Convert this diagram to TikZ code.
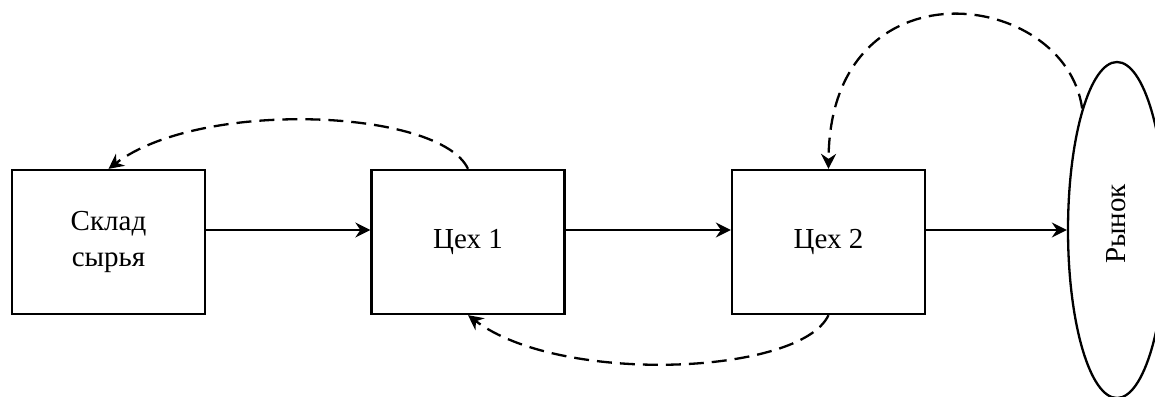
\documentclass[tikz,border=0pt]{standalone}
\usepackage{fontspec}
\setmainfont{Liberation Serif}
\usetikzlibrary{arrows.meta,shapes.geometric}
\begin{document}
\begin{tikzpicture}[x=0.5pt,y=-0.5pt,
  line width=1.15pt,
  unit/.style={draw, rectangle, minimum width=96.5pt, minimum height=72pt,
    inner sep=0pt, align=center, font=\fontsize{14.5}{18}\selectfont},
  market/.style={draw, ellipse, minimum width=49pt, minimum height=168pt, inner sep=0pt},
  flow/.style={-{Stealth[length=7.5pt,width=7.5pt,inset=2.5pt]}},
  back/.style={flow, dash pattern=on 7.5pt off 4pt}]
  \clip (0,0) rectangle (1155,396);

  % production stages
  \node[unit] (sklad) at (108.5,242) {Склад\\сырья};
  \node[unit] (ceh1)  at (468,242)   {Цех 1};
  \node[unit] (ceh2)  at (828.5,242) {Цех 2};

  % market
  \node[market] (rynok) at (1117,230) {};
  \node[rotate=90, font=\fontsize{14.5}{18}\selectfont] (rynoklabel) at (1116,224) {Рынок};

  % material flow
  \draw[flow] ([yshift=6pt]sklad.east) -- ([yshift=6pt]ceh1.west);
  \draw[flow] ([yshift=6pt]ceh1.east) -- ([yshift=6pt]ceh2.west);
  \draw[flow] ([yshift=6pt]ceh2.east) -- (rynok.west);

  % feedback
  \draw[back] (ceh1.north) .. controls +(-28,-60) and +(92,-70) .. (sklad.north);
  \draw[back] (ceh2.south) .. controls +(-28,60) and +(92,70) .. (ceh1.south);
  \draw[back] (rynok.106) .. controls +(-17,-120) and +(1,-210) .. (ceh2.north);
\end{tikzpicture}
\end{document}
